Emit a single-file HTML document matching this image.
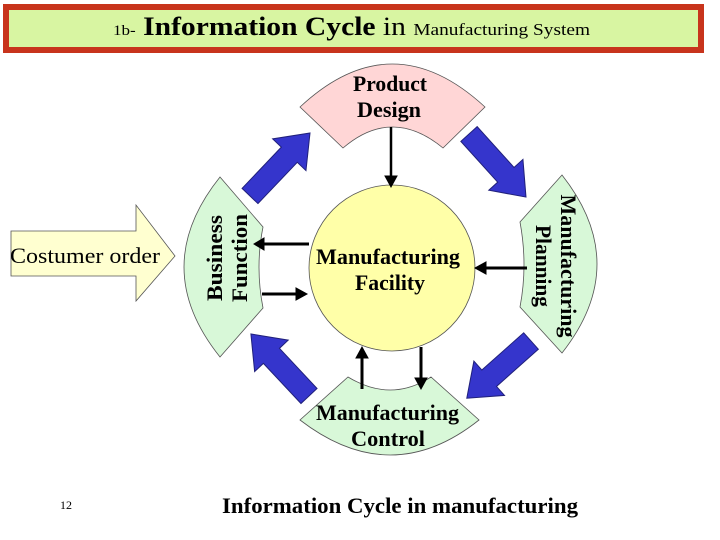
<!DOCTYPE html>
<html><head><style>
body{margin:0;width:720px;height:540px;background:#fff;overflow:hidden}
svg{display:block}
text{font-family:"Liberation Serif",serif}
</style></head><body>
<svg width="720" height="540" viewBox="0 0 720 540">
<rect x="6" y="7" width="695" height="43" fill="#d8f5a2" stroke="#c8341c" stroke-width="6"/>
<text x="113" y="35" textLength="477" lengthAdjust="spacingAndGlyphs" fill="#000"><tspan font-size="15">1b-</tspan><tspan font-size="26" font-weight="bold"> Information Cycle</tspan><tspan font-size="26"> in </tspan><tspan font-size="17">Manufacturing System</tspan></text>

<path d="M300,107 Q392,21 485,107 L443,148 Q392,106 343,148 Z" fill="#ffd6d6" stroke="#555" stroke-width="0.8"/>
<text x="353" y="91" textLength="74" lengthAdjust="spacingAndGlyphs" font-size="22" font-weight="bold">Product</text>
<text x="357" y="117" textLength="64" lengthAdjust="spacingAndGlyphs" font-size="22" font-weight="bold">Design</text>

<path d="M220,177 L263,227 Q255,267 263,308 L220,357 Q148,267 220,177 Z" fill="#d8f8d8" stroke="#555" stroke-width="0.8"/>
<text transform="translate(226,258) rotate(-90)" text-anchor="middle" font-size="22" font-weight="bold"><tspan x="0" y="-4" textLength="86" lengthAdjust="spacingAndGlyphs">Business</tspan><tspan x="0" y="21" textLength="88" lengthAdjust="spacingAndGlyphs">Function</tspan></text>

<path d="M562,175 L520,222 Q528,265 520,307 L562,353 Q632,264 562,175 Z" fill="#d8f8d8" stroke="#555" stroke-width="0.8"/>
<text transform="translate(557,266) rotate(90)" text-anchor="middle" font-size="22" font-weight="bold"><tspan x="0" y="-4" textLength="143" lengthAdjust="spacingAndGlyphs">Manufacturing</tspan><tspan x="0" y="21" textLength="82" lengthAdjust="spacingAndGlyphs">Planning</tspan></text>

<path d="M348,377 Q391,403 431,377 L479,420 Q391,490 300,420 Z" fill="#d8f8d8" stroke="#555" stroke-width="0.8"/>
<text x="316" y="420" textLength="143" lengthAdjust="spacingAndGlyphs" font-size="22" font-weight="bold">Manufacturing</text>
<text x="351" y="446" textLength="74" lengthAdjust="spacingAndGlyphs" font-size="22" font-weight="bold">Control</text>

<ellipse cx="392" cy="268" rx="83" ry="83" fill="#ffffa8" stroke="#555" stroke-width="0.8"/>
<text x="316" y="264" textLength="144" lengthAdjust="spacingAndGlyphs" font-size="22" font-weight="bold">Manufacturing</text>
<text x="355" y="290" textLength="70" lengthAdjust="spacingAndGlyphs" font-size="22" font-weight="bold">Facility</text>

<path d="M11,231 L136,231 L136,205 L175,256 L136,301 L136,276 L11,276 Z" fill="#ffffd0" stroke="#555" stroke-width="0.8"/>
<text x="10" y="263" textLength="150" lengthAdjust="spacingAndGlyphs" font-size="22">Costumer order</text>

<g fill="#000" stroke="#000">
<line x1="391" y1="127" x2="391" y2="178" stroke-width="2.5"/><path d="M385,176 L397,176 L391,187 Z"/>
<line x1="309" y1="244" x2="262" y2="244" stroke-width="3"/><path d="M264,238 L264,250 L254,244 Z"/>
<line x1="262" y1="294" x2="298" y2="294" stroke-width="3"/><path d="M296,288 L296,300 L307,294 Z"/>
<line x1="527" y1="268" x2="484" y2="268" stroke-width="3"/><path d="M486,262 L486,274 L475,268 Z"/>
<line x1="362" y1="389" x2="362" y2="356" stroke-width="3"/><path d="M356,358 L368,358 L362,347 Z"/>
<line x1="421" y1="347" x2="421" y2="380" stroke-width="3"/><path d="M415,378 L427,378 L421,389 Z"/>
</g>

<g fill="#3535cc" stroke="#20207a" stroke-width="1">
<path transform="translate(250,196) rotate(-46.4)" d="M0,-11 L57,-11 L57,-23 L87,0 L57,23 L57,11 L0,11 Z"/>
<path transform="translate(469,134) rotate(47.9)" d="M0,-11 L55,-11 L55,-23 L85,0 L55,23 L55,11 L0,11 Z"/>
<path transform="translate(531,341) rotate(138.3)" d="M0,-11 L56,-11 L56,-23 L86,0 L56,23 L56,11 L0,11 Z"/>
<path transform="translate(309,396) rotate(-133.1)" d="M0,-11 L55,-11 L55,-23 L85,0 L55,23 L55,11 L0,11 Z"/>
</g>

<text x="60" y="509" font-size="12">12</text>
<text x="222" y="513" textLength="356" lengthAdjust="spacingAndGlyphs" font-size="22" font-weight="bold">Information Cycle in manufacturing</text>
</svg>
</body></html>
